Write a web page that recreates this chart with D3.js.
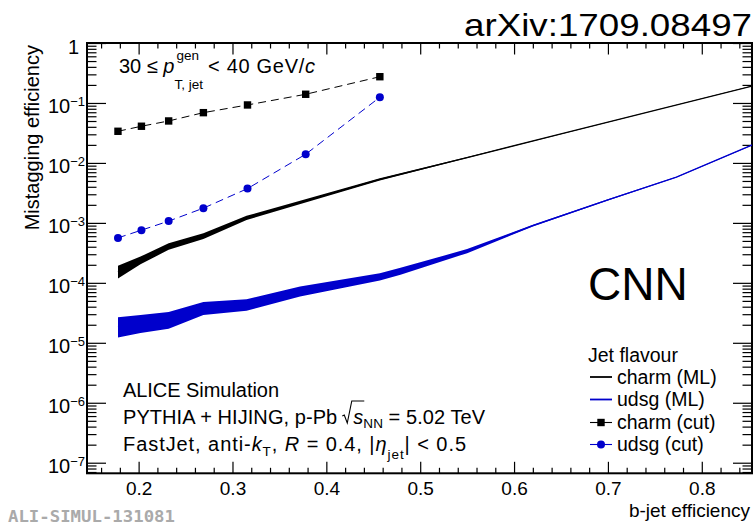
<!DOCTYPE html>
<html>
<head>
<meta charset="utf-8">
<script src="https://cdn.jsdelivr.net/npm/d3@7"></script>
<style>
body { margin: 0; background: #fff; }
svg { display: block; }
</style>
</head>
<body>
<div id="chart"></div>
<script>
//Datos
const cutEff = [0.178, 0.203, 0.232, 0.269, 0.316, 0.378, 0.457];
const charmCut = [0.0337, 0.0409, 0.0501, 0.0689, 0.0926, 0.1396, 0.274];
const udsgCut = [5.62e-4, 7.56e-4, 1.07e-3, 1.76e-3, 3.73e-3, 0.01396, 0.1245];

const charmMLEff = [0.178, 0.202, 0.232, 0.269, 0.315, 0.457, 0.55, 0.65, 0.75, 0.854];
const charmMLLow = [1.18e-4, 2.05e-4, 3.55e-4, 5.41e-4, 1.12e-3, 5.07e-3, 0.0121, 0.0302, 0.0750, 0.190];
const charmMLHigh = [1.92e-4, 2.74e-4, 4.59e-4, 6.73e-4, 1.31e-3, 5.56e-3, 0.0125, 0.0306, 0.0756, 0.194];

const udsgMLEff = [0.178, 0.202, 0.232, 0.269, 0.315, 0.372, 0.457, 0.479, 0.55, 0.62, 0.70, 0.773, 0.854];
const udsgMLLow = [1.23e-5, 1.45e-5, 1.71e-5, 2.9e-5, 3.41e-5, 5.91e-5, 1.09e-4, 1.36e-4, 3.13e-4, 8.7e-4, 2.36e-3, 5.7e-3, 0.0197];
const udsgMLHigh = [2.68e-5, 2.9e-5, 3.25e-5, 4.77e-5, 5.35e-5, 8.67e-5, 1.45e-4, 1.78e-4, 3.65e-4, 9.3e-4, 2.48e-3, 5.9e-3, 0.0203];

const xMajorTicks = [0.2, 0.3, 0.4, 0.5, 0.6, 0.7, 0.8];
const xMinorTicks = [0.16, 0.18, 0.22, 0.24, 0.26, 0.28, 0.32, 0.34, 0.36, 0.38, 0.42, 0.44, 0.46, 0.48,
    0.52, 0.54, 0.56, 0.58, 0.62, 0.64, 0.66, 0.68, 0.72, 0.74, 0.76, 0.78, 0.82, 0.84];
const yMajorTicks = [1, 1e-1, 1e-2, 1e-3, 1e-4, 1e-5, 1e-6, 1e-7];

const legendItems = ['charm (ML)', 'udsg (ML)', 'charm (cut)', 'udsg (cut)'];

//Colores
const BLACK = '#000000', BLUE = '#0000cc';
const FONT = '"Liberation Sans", Arial, Helvetica, sans-serif';

const W = 753, H = 527;
const frame = {left: 87, right: 752, top: 43, bottom: 473.3};

let svg = d3.select('#chart').append('svg')
    .attr('width', W).attr('height', H)
    .style('font-family', FONT);

svg.append('rect').attr('width', W).attr('height', H).attr('fill', '#fff');

let x = d3.scaleLinear().domain([0.145, 0.8535]).range([frame.left, frame.right]);
let y = d3.scaleLog().domain([6.66e-8, 1]).range([frame.bottom, frame.top]);

svg.append('clipPath').attr('id', 'clip')
    .append('rect')
    .attr('x', frame.left).attr('y', frame.top)
    .attr('width', frame.right - frame.left).attr('height', frame.bottom - frame.top);

//Ejes
function addAxis(axis, tx, ty) {
    let g = svg.append('g').attr('transform', 'translate(' + tx + ',' + ty + ')').call(axis);
    g.select('.domain').remove();
    g.attr('font-family', FONT).attr('font-size', 19);
    g.selectAll('.tick line').attr('stroke', BLACK).attr('stroke-width', 1.2);
    g.selectAll('.tick text').attr('fill', BLACK);
    return g;
}

const yMinorTicks = y.ticks().filter(d => !yMajorTicks.some(m => Math.abs(m - d) / m < 1e-6));

addAxis(d3.axisBottom(x).tickValues(xMajorTicks).tickSize(-11.5).tickPadding(8).tickFormat(d3.format('.1f')), 0, frame.bottom);
addAxis(d3.axisBottom(x).tickValues(xMinorTicks).tickSize(-5.5).tickFormat(''), 0, frame.bottom);
addAxis(d3.axisTop(x).tickValues(xMajorTicks).tickSize(-11.5).tickFormat(''), 0, frame.top);
addAxis(d3.axisTop(x).tickValues(xMinorTicks).tickSize(-5.5).tickFormat(''), 0, frame.top);

let yAxisG = addAxis(d3.axisLeft(y).tickValues(yMajorTicks).tickSize(-19).tickPadding(2).tickFormat(''), frame.left, 0);
addAxis(d3.axisLeft(y).tickValues(yMinorTicks).tickSize(-9.5).tickFormat(''), frame.left, 0);
addAxis(d3.axisRight(y).tickValues(yMajorTicks).tickSize(-19).tickFormat(''), frame.right, 0);
addAxis(d3.axisRight(y).tickValues(yMinorTicks).tickSize(-9.5).tickFormat(''), frame.right, 0);

//Etiquetas 10^n
yAxisG.selectAll('.tick text').each(function(d) {
    let t = d3.select(this).text(null).attr('dy', '0.5em').attr('font-size', 20);
    if (d === 1) {
        t.attr('dx', -6).text('1');
    } else {
        t.append('tspan').text('10');
        t.append('tspan').attr('dy', -7.5).attr('font-size', 13)
            .text('\u2212' + Math.round(-Math.log10(d)));
    }
});

//Marco
svg.append('rect')
    .attr('x', frame.left).attr('y', frame.top)
    .attr('width', frame.right - frame.left).attr('height', frame.bottom - frame.top)
    .attr('fill', 'none').attr('stroke', BLACK).attr('stroke-width', 2);

//Bandas ML
let plot = svg.append('g').attr('clip-path', 'url(#clip)');

function bandData(eff, lo, hi) {
    return eff.map((e, i) => ({e: e, lo: lo[i], hi: hi[i]}));
}
let area = d3.area().x(d => x(d.e)).y0(d => y(d.lo)).y1(d => y(d.hi));
let mid = d3.line().x(d => x(d.e)).y(d => y(Math.sqrt(d.lo * d.hi)));

[[bandData(udsgMLEff, udsgMLLow, udsgMLHigh), BLUE], [bandData(charmMLEff, charmMLLow, charmMLHigh), BLACK]].forEach(function(s) {
    plot.append('path').datum(s[0]).attr('d', area).attr('fill', s[1]);
    plot.append('path').datum(s[0]).attr('d', mid).attr('fill', 'none').attr('stroke', s[1]).attr('stroke-width', 1.3);
});

//Curvas de corte
let cutLine = d3.line().x(d => x(d[0])).y(d => y(d[1]));
let charmPts = d3.zip(cutEff, charmCut), udsgPts = d3.zip(cutEff, udsgCut);

plot.append('path').datum(udsgPts).attr('d', cutLine)
    .attr('fill', 'none').attr('stroke', BLUE).attr('stroke-width', 1).attr('stroke-dasharray', '8,5');
plot.append('path').datum(charmPts).attr('d', cutLine)
    .attr('fill', 'none').attr('stroke', BLACK).attr('stroke-width', 1).attr('stroke-dasharray', '8,5');

plot.selectAll('.sq').data(charmPts).enter().append('rect')
    .attr('x', d => x(d[0]) - 3.7).attr('y', d => y(d[1]) - 3.7)
    .attr('width', 7.4).attr('height', 7.4).attr('fill', BLACK);
plot.selectAll('.dot').data(udsgPts).enter().append('circle')
    .attr('cx', d => x(d[0])).attr('cy', d => y(d[1]))
    .attr('r', 4).attr('fill', BLUE);

//Títulos de ejes
svg.append('text')
    .attr('transform', 'translate(39,45) rotate(-90)')
    .attr('text-anchor', 'end').attr('font-size', 20)
    .text('Mistagging efficiency');

svg.append('text')
    .attr('x', 750).attr('y', 517).attr('text-anchor', 'end').attr('font-size', 19)
    .text('b-jet efficiency');

//Textos
svg.append('text')
    .attr('x', 752).attr('y', 36).attr('text-anchor', 'end').attr('font-size', 32)
    .attr('textLength', 288).attr('lengthAdjust', 'spacingAndGlyphs')
    .text('arXiv:1709.08497');

svg.append('text')
    .attr('x', 588).attr('y', 300).attr('font-size', 46)
    .text('CNN');

svg.append('text')
    .attr('x', 8).attr('y', 522).attr('font-size', 15).attr('font-weight', 'bold')
    .attr('font-family', '"DejaVu Sans Mono", "Liberation Mono", monospace')
    .attr('fill', '#aaaaaa')
    .attr('textLength', 167).attr('lengthAdjust', 'spacingAndGlyphs')
    .text('ALI-SIMUL-131081');

//pT
let pt = svg.append('g').attr('font-size', 20);
let pt1 = pt.append('text').attr('x', 119).attr('y', 73);
pt1.append('tspan').text('30 \u2264 ');
pt1.append('tspan').attr('font-style', 'italic').text('p');
let pEnd = 119 + pt1.node().getComputedTextLength();
pt.append('text').attr('x', pEnd + 2).attr('y', 60).attr('font-size', 13.5).text('gen');
let sub = pt.append('text').attr('x', pEnd).attr('y', 89).attr('font-size', 13.5).text('T, jet');
let subEnd = pEnd + sub.node().getComputedTextLength();
let pt2 = pt.append('text').attr('x', subEnd + 5).attr('y', 73)
    .attr('textLength', 315 - subEnd - 5).attr('lengthAdjust', 'spacing');
pt2.append('tspan').text('< 40 GeV/');
pt2.append('tspan').attr('font-style', 'italic').text('c');

//ALICE
let info = svg.append('g').attr('font-size', 20);
info.append('text').attr('x', 123).attr('y', 397)
    .attr('textLength', 156).attr('lengthAdjust', 'spacing')
    .text('ALICE Simulation');

let yb = 424;
let l2 = info.append('text').attr('x', 123).attr('y', yb)
    .attr('textLength', 362).attr('lengthAdjust', 'spacing');
l2.append('tspan').text('PYTHIA + HIJING, p-Pb');
l2.append('tspan').attr('dx', 16).attr('font-style', 'italic').text('s');
l2.append('tspan').attr('dy', 4).attr('font-size', 13.5).text('NN');
l2.append('tspan').attr('dy', -4).text(' = 5.02 TeV');
let sPos = l2.node().getStartPositionOfChar(21);
let sEnd = l2.node().getEndPositionOfChar(21);
info.append('path')
    .attr('d', 'M' + (sPos.x - 11) + ',' + (yb - 8) +
        ' L' + (sPos.x - 9) + ',' + (yb - 9) +
        ' L' + (sPos.x - 6) + ',' + (yb - 1) +
        ' L' + (sPos.x - 1.5) + ',' + (yb - 23) +
        ' L' + (sEnd.x + 1) + ',' + (yb - 23))
    .attr('fill', 'none').attr('stroke', BLACK).attr('stroke-width', 1.1);

let l3 = info.append('text').attr('x', 123).attr('y', 451)
    .attr('textLength', 343).attr('lengthAdjust', 'spacing');
l3.append('tspan').text('FastJet, anti-');
l3.append('tspan').attr('font-style', 'italic').text('k');
l3.append('tspan').attr('dy', 5).attr('font-size', 13.5).text('T');
l3.append('tspan').attr('dy', -5).text(', ');
l3.append('tspan').attr('font-style', 'italic').text('R');
l3.append('tspan').text(' = 0.4, |');
l3.append('tspan').attr('font-style', 'italic').text('\u03b7');
l3.append('tspan').attr('dy', 8).attr('font-size', 13.5).text('jet');
l3.append('tspan').attr('dy', -8).text('| < 0.5');

//Leyenda
let leg = svg.append('g').attr('font-size', 19.5);
leg.append('text').attr('x', 588).attr('y', 362).text('Jet flavour');
const legY = [383.5, 406, 429, 451];
legendItems.forEach(function(name, i) {
    let col = (i % 2 === 0) ? BLACK : BLUE;
    let ly = legY[i] - 6.5;
    leg.append('line').attr('x1', 590).attr('x2', 612).attr('y1', ly).attr('y2', ly)
        .attr('stroke', col).attr('stroke-width', i < 2 ? 1.8 : 1.1);
    if (i === 2) {
        leg.append('rect').attr('x', 601 - 3.7).attr('y', ly - 3.7).attr('width', 7.4).attr('height', 7.4).attr('fill', col);
    } else if (i === 3) {
        leg.append('circle').attr('cx', 601).attr('cy', ly).attr('r', 4).attr('fill', col);
    }
    leg.append('text').attr('x', 617).attr('y', legY[i]).text(name);
});
</script>
</body>
</html>
